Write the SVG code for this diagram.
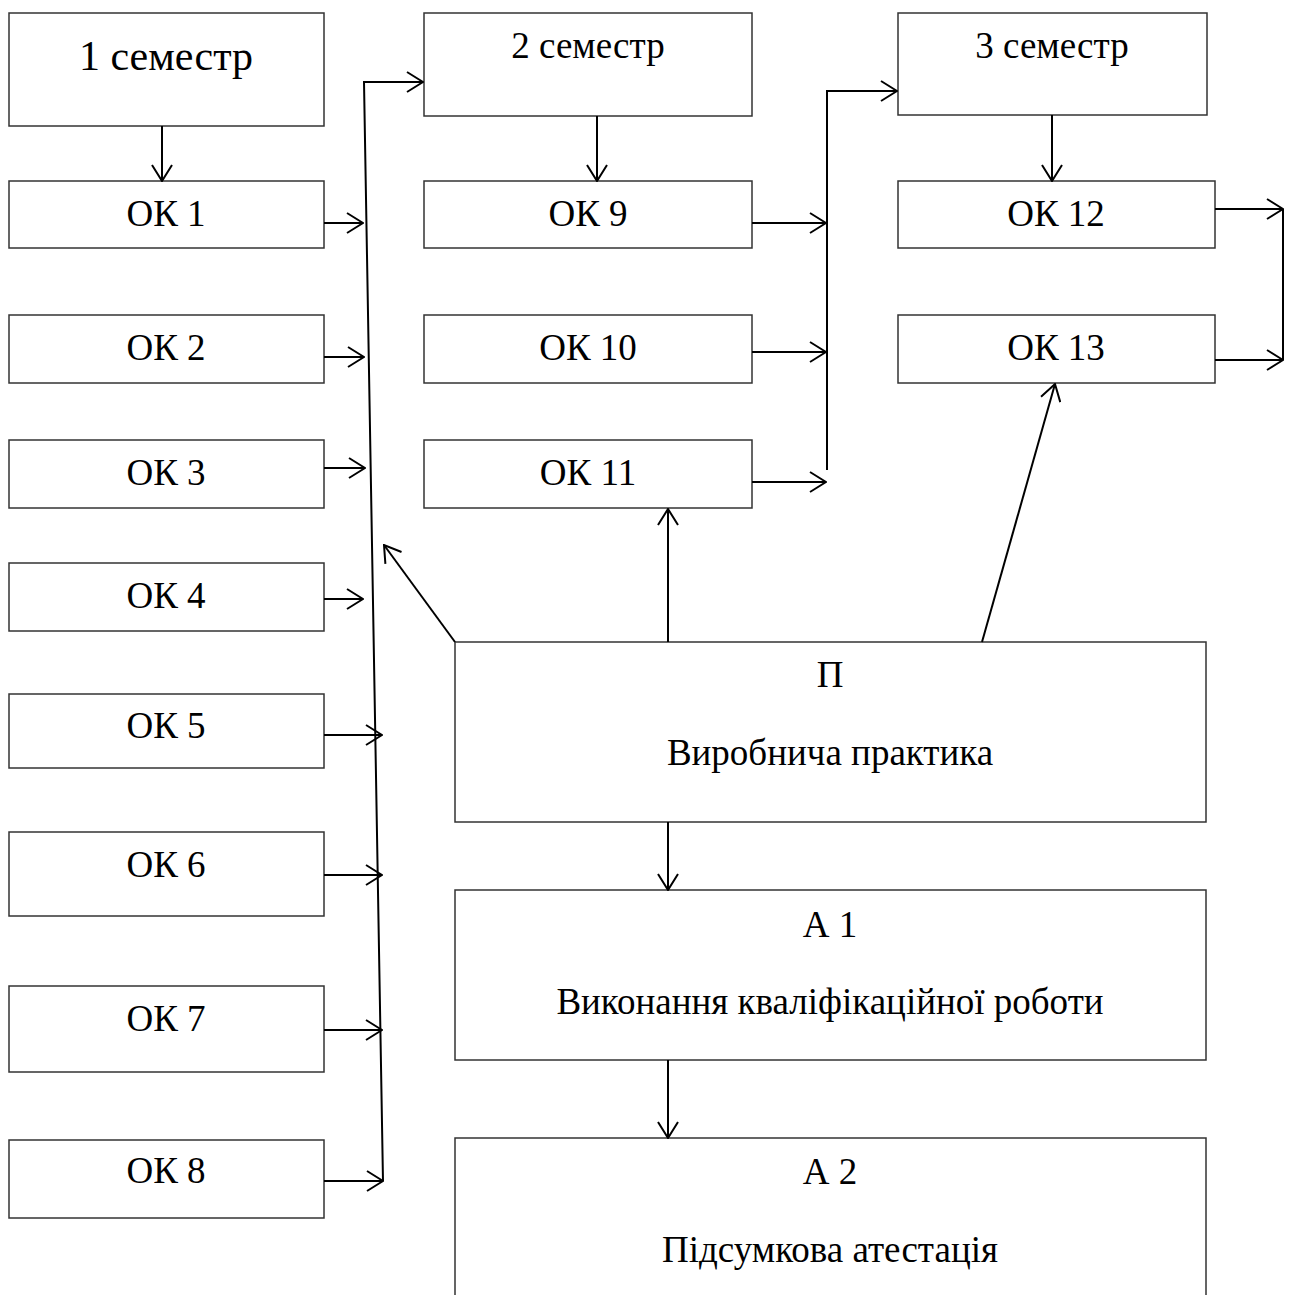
<svg xmlns="http://www.w3.org/2000/svg" width="1291" height="1295" viewBox="0 0 1291 1295">
<style>
.box{fill:#fff;stroke:#333;stroke-width:1.5}
.t{font-family:"Liberation Serif","Times New Roman",serif;font-size:37px;fill:#000;text-anchor:middle}
.big{font-size:42px}
.c{fill:none;stroke:#000;stroke-width:2}
</style>
<defs>
<marker id="a" markerUnits="userSpaceOnUse" viewBox="0 0 18 22" refX="17" refY="11" markerWidth="18" markerHeight="22" orient="auto">
<path d="M1,1 L17,11 L1,21" fill="none" stroke="#000" stroke-width="2"/>
</marker>
</defs>
<rect width="1291" height="1295" fill="#fff"/>
<g id="s1"><rect class="box" x="9" y="13" width="315" height="113"/><text class="t big" x="166" y="70">1 семестр</text></g>
<g id="ok1"><rect class="box" x="9" y="181" width="315" height="67"/><text class="t" x="166" y="226">ОК 1</text></g>
<g id="ok2"><rect class="box" x="9" y="315" width="315" height="68"/><text class="t" x="166" y="360">ОК 2</text></g>
<g id="ok3"><rect class="box" x="9" y="440" width="315" height="68"/><text class="t" x="166" y="485">ОК 3</text></g>
<g id="ok4"><rect class="box" x="9" y="563" width="315" height="68"/><text class="t" x="166" y="608">ОК 4</text></g>
<g id="ok5"><rect class="box" x="9" y="694" width="315" height="74"/><text class="t" x="166" y="738">ОК 5</text></g>
<g id="ok6"><rect class="box" x="9" y="832" width="315" height="84"/><text class="t" x="166" y="877">ОК 6</text></g>
<g id="ok7"><rect class="box" x="9" y="986" width="315" height="86"/><text class="t" x="166" y="1031">ОК 7</text></g>
<g id="ok8"><rect class="box" x="9" y="1140" width="315" height="78"/><text class="t" x="166" y="1183">ОК 8</text></g>
<g id="s2"><rect class="box" x="424" y="13" width="328" height="103"/><text class="t" x="588" y="58">2 семестр</text></g>
<g id="ok9"><rect class="box" x="424" y="181" width="328" height="67"/><text class="t" x="588" y="226">ОК 9</text></g>
<g id="ok10"><rect class="box" x="424" y="315" width="328" height="68"/><text class="t" x="588" y="360">ОК 10</text></g>
<g id="ok11"><rect class="box" x="424" y="440" width="328" height="68"/><text class="t" x="588" y="485">ОК 11</text></g>
<g id="s3"><rect class="box" x="898" y="13" width="309" height="102"/><text class="t" x="1052" y="58">3 семестр</text></g>
<g id="ok12"><rect class="box" x="898" y="181" width="317" height="67"/><text class="t" x="1056" y="226">ОК 12</text></g>
<g id="ok13"><rect class="box" x="898" y="315" width="317" height="68"/><text class="t" x="1056" y="360">ОК 13</text></g>
<g id="p"><rect class="box" x="455" y="642" width="751" height="180"/><text class="t" x="830" y="687">П</text><text class="t" x="830" y="765">Виробнича практика</text></g>
<g id="a1"><rect class="box" x="455" y="890" width="751" height="170"/><text class="t" x="830" y="937">А 1</text><text class="t" x="830" y="1014">Виконання кваліфікаційної роботи</text></g>
<g id="a2"><rect class="box" x="455" y="1138" width="751" height="170"/><text class="t" x="830" y="1184">А 2</text><text class="t" x="830" y="1262">Підсумкова атестація</text></g>
<g id="connectors">
<path class="c" d="M162,126 V181" marker-end="url(#a)"/>
<path class="c" d="M383,1181 L364,82 H423" marker-end="url(#a)"/>
<path class="c" d="M324,223 H363" marker-end="url(#a)"/>
<path class="c" d="M324,357 H364" marker-end="url(#a)"/>
<path class="c" d="M324,468 H365" marker-end="url(#a)"/>
<path class="c" d="M324,599 H363" marker-end="url(#a)"/>
<path class="c" d="M324,735 H382" marker-end="url(#a)"/>
<path class="c" d="M324,875 H382" marker-end="url(#a)"/>
<path class="c" d="M324,1030 H382" marker-end="url(#a)"/>
<path class="c" d="M324,1181 H383" marker-end="url(#a)"/>
<path class="c" d="M597,116 V181" marker-end="url(#a)"/>
<path class="c" d="M827,470 V91 H897" marker-end="url(#a)"/>
<path class="c" d="M752,223 H826" marker-end="url(#a)"/>
<path class="c" d="M752,352 H826" marker-end="url(#a)"/>
<path class="c" d="M752,482 H826" marker-end="url(#a)"/>
<path class="c" d="M1052,115 V181" marker-end="url(#a)"/>
<path class="c" d="M1215,209 H1283" marker-end="url(#a)"/>
<path class="c" d="M1215,360 H1283" marker-end="url(#a)"/>
<path class="c" d="M1283,209 V360"/>
<path class="c" d="M455,642 L384,545" marker-end="url(#a)"/>
<path class="c" d="M668,642 V509" marker-end="url(#a)"/>
<path class="c" d="M982,642 L1055,384" marker-end="url(#a)"/>
<path class="c" d="M668,822 V890" marker-end="url(#a)"/>
<path class="c" d="M668,1060 V1138" marker-end="url(#a)"/>
</g>
</svg>
